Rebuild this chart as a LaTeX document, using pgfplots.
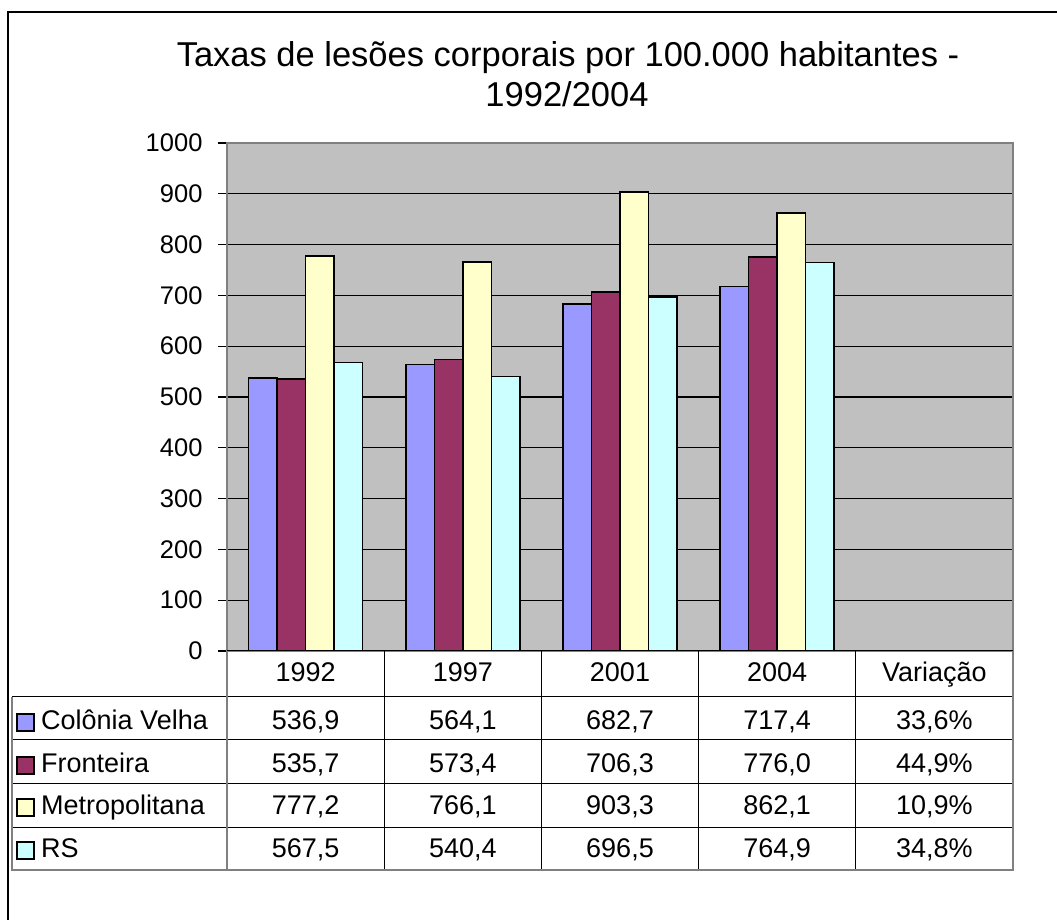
\documentclass[border=0pt]{standalone}
\usepackage{pgfplots}
\pgfplotsset{compat=1.18}
\usepackage{fontspec}
\setmainfont{Liberation Sans}

\definecolor{cvelha}{HTML}{9999FF}
\definecolor{front}{HTML}{993366}
\definecolor{metro}{HTML}{FFFFCC}
\definecolor{rsc}{HTML}{CCFFFF}
\definecolor{plotbg}{HTML}{C0C0C0}
\definecolor{axgray}{HTML}{808080}

\newcommand\tf{\fontsize{27}{32}\selectfont}
% one row of the data table: baseline, colour, name, five values
\newcommand\tablerow[8]{%
  \draw[fill=#2, line width=1.5pt] (17,#1-1) rectangle (34,#1+16);
  \node[anchor=base west, font=\tf, inner sep=0pt] at (41,#1) {#3};
  \node[anchor=base, font=\tf, inner sep=0pt] at (305.6,#1) {#4};
  \node[anchor=base, font=\tf, inner sep=0pt] at (462.8,#1) {#5};
  \node[anchor=base, font=\tf, inner sep=0pt] at (620.0,#1) {#6};
  \node[anchor=base, font=\tf, inner sep=0pt] at (777.2,#1) {#7};
  \node[anchor=base, font=\tf, inner sep=0pt] at (934.4,#1) {#8};
}

\begin{document}
\begin{tikzpicture}[x=1pt,y=1pt]
\useasboundingbox (0,0) rectangle (1057,920);
% outer chart frame
\draw[line width=1.5pt] (8,0) -- (8,908) -- (1057,908);

% title
\node[anchor=base, font=\fontsize{34.5}{41}\selectfont] at (568,853) {Taxas de lesões corporais por 100.000 habitantes -};
\node[anchor=base, font=\fontsize{34.5}{41}\selectfont] at (567,813) {1992/2004};

\begin{axis}[
    at={(227pt,269pt)}, anchor=south west,
    scale only axis, width=786pt, height=508pt,
    xmin=-0.5, xmax=4.5,
    ymin=0, ymax=1000,
    ytick={0,100,...,1000},
    xtick=\empty,
    ybar=0pt, bar width=28.5pt,
    axis background/.style={fill=plotbg},
    axis line style={draw=axgray, line width=2pt},
    ymajorgrids,
    major grid style={black, line width=1.2pt},
    ytick pos=left, tick align=outside,
    major tick length=9pt,
    tick style={black, line width=1.2pt},
    yticklabel style={font=\fontsize{25.5}{30}\selectfont, xshift=-12pt,
        /pgf/number format/1000 sep={},
        /pgf/number format/assume math mode=true},
]
\addplot[fill=cvelha, draw=black, line width=1.5pt]
    coordinates {(0,536.9) (1,564.1) (2,682.7) (3,717.4) (4,0.336)};
\addplot[fill=front, draw=black, line width=1.5pt]
    coordinates {(0,535.7) (1,573.4) (2,706.3) (3,776.0) (4,0.449)};
\addplot[fill=metro, draw=black, line width=1.5pt]
    coordinates {(0,777.2) (1,766.1) (2,903.3) (3,862.1) (4,0.109)};
\addplot[fill=rsc, draw=black, line width=1.5pt]
    coordinates {(0,567.5) (1,540.4) (2,696.5) (3,764.9) (4,0.348)};
\draw[black, line width=1.5pt] (axis cs:-0.5,0) -- (axis cs:4.5,0);
\end{axis}

% data table
\foreach \y in {223,180,136,92} \draw[line width=1pt] (12,\y) -- (1013,\y);
\foreach \i in {1,...,4} \draw[line width=1pt] ({227+157.2*\i},269) -- ({227+157.2*\i},50);
\draw[axgray, line width=1.5pt] (12,223) -- (12,50) -- (1013,50) -- (1013,269);
\draw[axgray, line width=1.5pt] (227,269) -- (227,50);

\foreach \c [count=\i from 0] in {1992,1997,2001,2004,Variação}
    \node[anchor=base, font=\tf, inner sep=0pt] at ({305.6+157.2*\i},238) {\c};

\tablerow{190}{cvelha}{Colônia Velha}{536,9}{564,1}{682,7}{717,4}{33,6\%}
\tablerow{147}{front}{Fronteira}{535,7}{573,4}{706,3}{776,0}{44,9\%}
\tablerow{105}{metro}{Metropolitana}{777,2}{766,1}{903,3}{862,1}{10,9\%}
\tablerow{62}{rsc}{RS}{567,5}{540,4}{696,5}{764,9}{34,8\%}
\end{tikzpicture}
\end{document}
